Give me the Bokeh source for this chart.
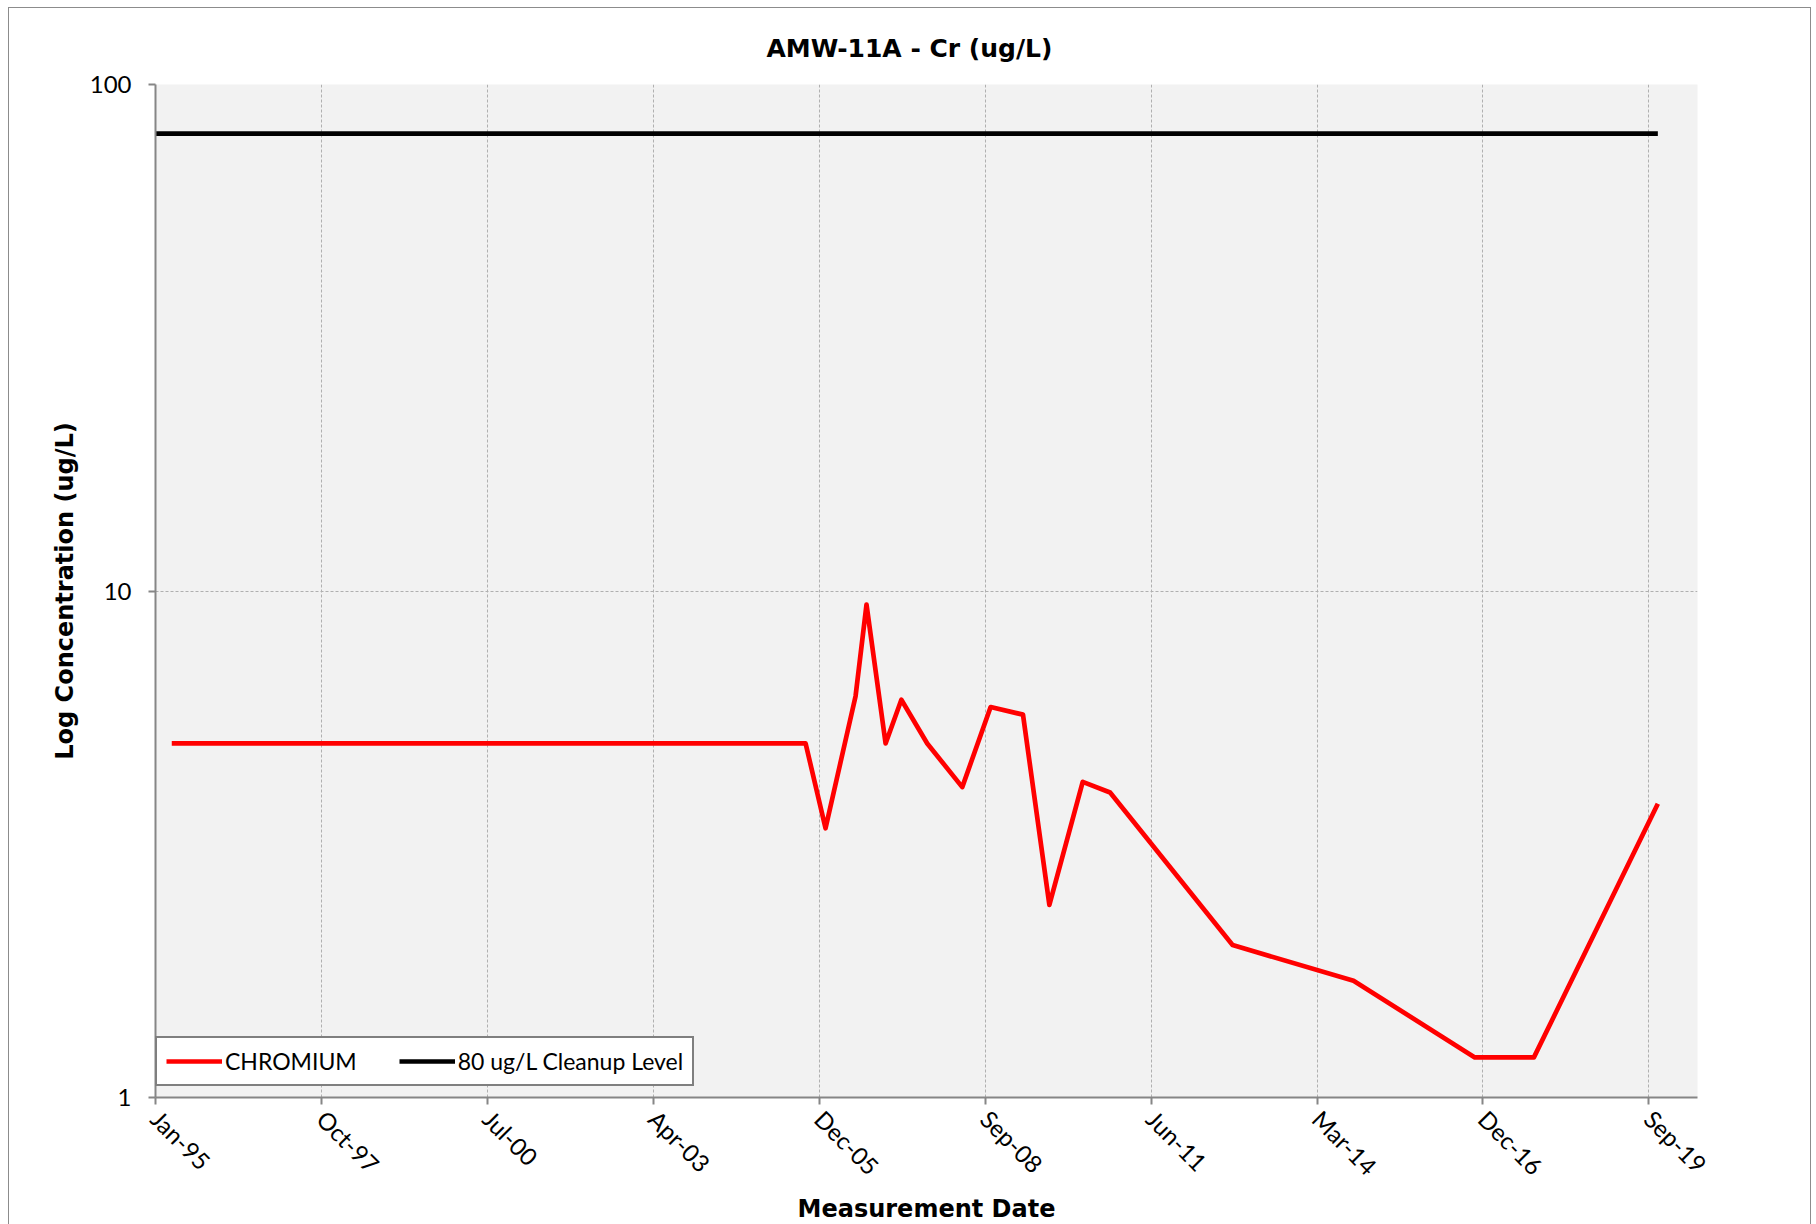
import math
import pandas as pd
from bokeh.plotting import figure
from bokeh.models import Range1d, FixedTicker, Legend, LegendItem
from bokeh.embed import file_html
from bokeh.resources import INLINE

# ---------------- data ----------------
title_text = "AMW-11A - Cr (ug/L)"
x_title = "Measurement Date"
y_title = "Log Concentration (ug/L)"

cr_dates = ["1995-04-21", "2005-10-05", "2006-02-02", "2006-08-02", "2006-10-07",
            "2007-01-30", "2007-05-05", "2007-10-08", "2008-05-06", "2008-10-24",
            "2009-05-07", "2009-10-13", "2010-05-02", "2010-10-14", "2012-10-21",
            "2014-10-20", "2016-10-20", "2017-10-11", "2019-10-28"]
cr_values = [5.0, 5.0, 3.4, 6.2, 9.4,
             5.0, 6.1, 5.0, 4.1, 5.9,
             5.7, 2.4, 4.2, 4.0, 2.0,
             1.7, 1.2, 1.2, 3.8]

cleanup_dates = ["1995-01-13", "2019-10-28"]
cleanup_values = [80, 80]

series_labels = ["CHROMIUM", "80 ug/L Cleanup Level"]

x_axis_start = "1995-01-13"
x_axis_end = "2020-06-23"
x_tick_step_days = 1000
x_tick_labels = ["Jan-95", "Oct-97", "Jul-00", "Apr-03", "Dec-05",
                 "Sep-08", "Jun-11", "Mar-14", "Dec-16", "Sep-19"]
y_ticks = [1, 10, 100]
y_tick_labels = ["1", "10", "100"]


def to_ms(d):
    return pd.Timestamp(d).value / 1e6


cr_x = [to_ms(d) for d in cr_dates]
cl_x = [to_ms(d) for d in cleanup_dates]
tick_dates = pd.date_range(x_axis_start, periods=len(x_tick_labels), freq=f"{x_tick_step_days}D")
x_ticks = [to_ms(d) for d in tick_dates]

# ---------------- figure ----------------
MB_LEFT, MB_TOP, FRAME_W, FRAME_H = 146, 76, 1542, 1013
FIG_W = 1801

p = figure(
    x_axis_type="datetime", y_axis_type="log",
    x_range=Range1d(to_ms(x_axis_start), to_ms(x_axis_end)),
    y_range=Range1d(1, 100),
    frame_width=FRAME_W, frame_height=FRAME_H,
    min_border_left=MB_LEFT, min_border_right=FIG_W - MB_LEFT - FRAME_W,
    min_border_top=MB_TOP, min_border_bottom=110,
    output_backend="svg", toolbar_location=None,
    background_fill_color="#f2f2f2", border_fill_color="white",
    outline_line_color=None,
)
p.styles = {"margin-left": "8px", "margin-top": "7px",
            "border-top": "1px solid #8c8c8c", "border-left": "1px solid #8c8c8c",
            "border-right": "1px solid #8c8c8c"}

p.title.text = title_text
p.title.align = "left"
p.title.offset = 611
p.title.standoff = 44
p.title.text_font = "DejaVu Sans"
p.title.text_font_style = "bold"
p.title.text_font_size = "25px"
p.title.text_color = "black"

axis_color = "#868686"
for ax in (p.xaxis[0], p.yaxis[0]):
    ax.axis_line_color = axis_color
    ax.axis_line_width = 2
    ax.major_tick_line_color = axis_color
    ax.major_tick_line_width = 2
    ax.major_tick_in = 0
    ax.major_tick_out = 7
    ax.minor_tick_line_color = None
    ax.major_label_text_font = "Lato"
    ax.major_label_text_font_size = "24px"
    ax.major_label_text_color = "black"
    ax.axis_label_text_font = "DejaVu Sans"
    ax.axis_label_text_font_style = "bold"
    ax.axis_label_text_font_size = "24px"
    ax.axis_label_text_color = "black"

xa = p.xaxis[0]
xa.ticker = FixedTicker(ticks=x_ticks, minor_ticks=[])
xa.major_label_overrides = {t: lab for t, lab in zip(x_ticks, x_tick_labels)}
xa.major_label_orientation = -math.pi / 4
xa.major_label_standoff = 10
xa.axis_label = x_title
xa.axis_label_standoff = 1

ya = p.yaxis[0]
ya.ticker = FixedTicker(ticks=y_ticks, minor_ticks=[])
ya.major_label_overrides = {t: lab for t, lab in zip(y_ticks, y_tick_labels)}
ya.major_label_standoff = 17
ya.axis_label = y_title
ya.axis_label_standoff = 8

for g in (p.xgrid[0], p.ygrid[0]):
    g.grid_line_color = "#b0b0b0"
    g.grid_line_dash = "3 2"
    g.grid_line_width = 1

r_cr = p.line(cr_x, cr_values, line_color="#ff0000", line_width=4.7, line_join="round")
r_cl = p.line(cl_x, cleanup_values, line_color="#000000", line_width=4.7, line_join="round")

legend = Legend(
    items=[LegendItem(label=series_labels[0], renderers=[r_cr]),
           LegendItem(label=series_labels[1], renderers=[r_cl])],
    orientation="horizontal", location=(0, 11),
    border_line_color="black", border_line_width=2.5,
    background_fill_color="white", background_fill_alpha=1,
    label_text_font="Lato", label_text_font_size="23px", label_text_color="black",
    glyph_width=56, glyph_height=20, label_height=20,
    label_standoff=3, spacing=42, padding=9, margin=0,
)
p.add_layout(legend, "center")

open("out.html", "w").write(file_html(p, INLINE))
